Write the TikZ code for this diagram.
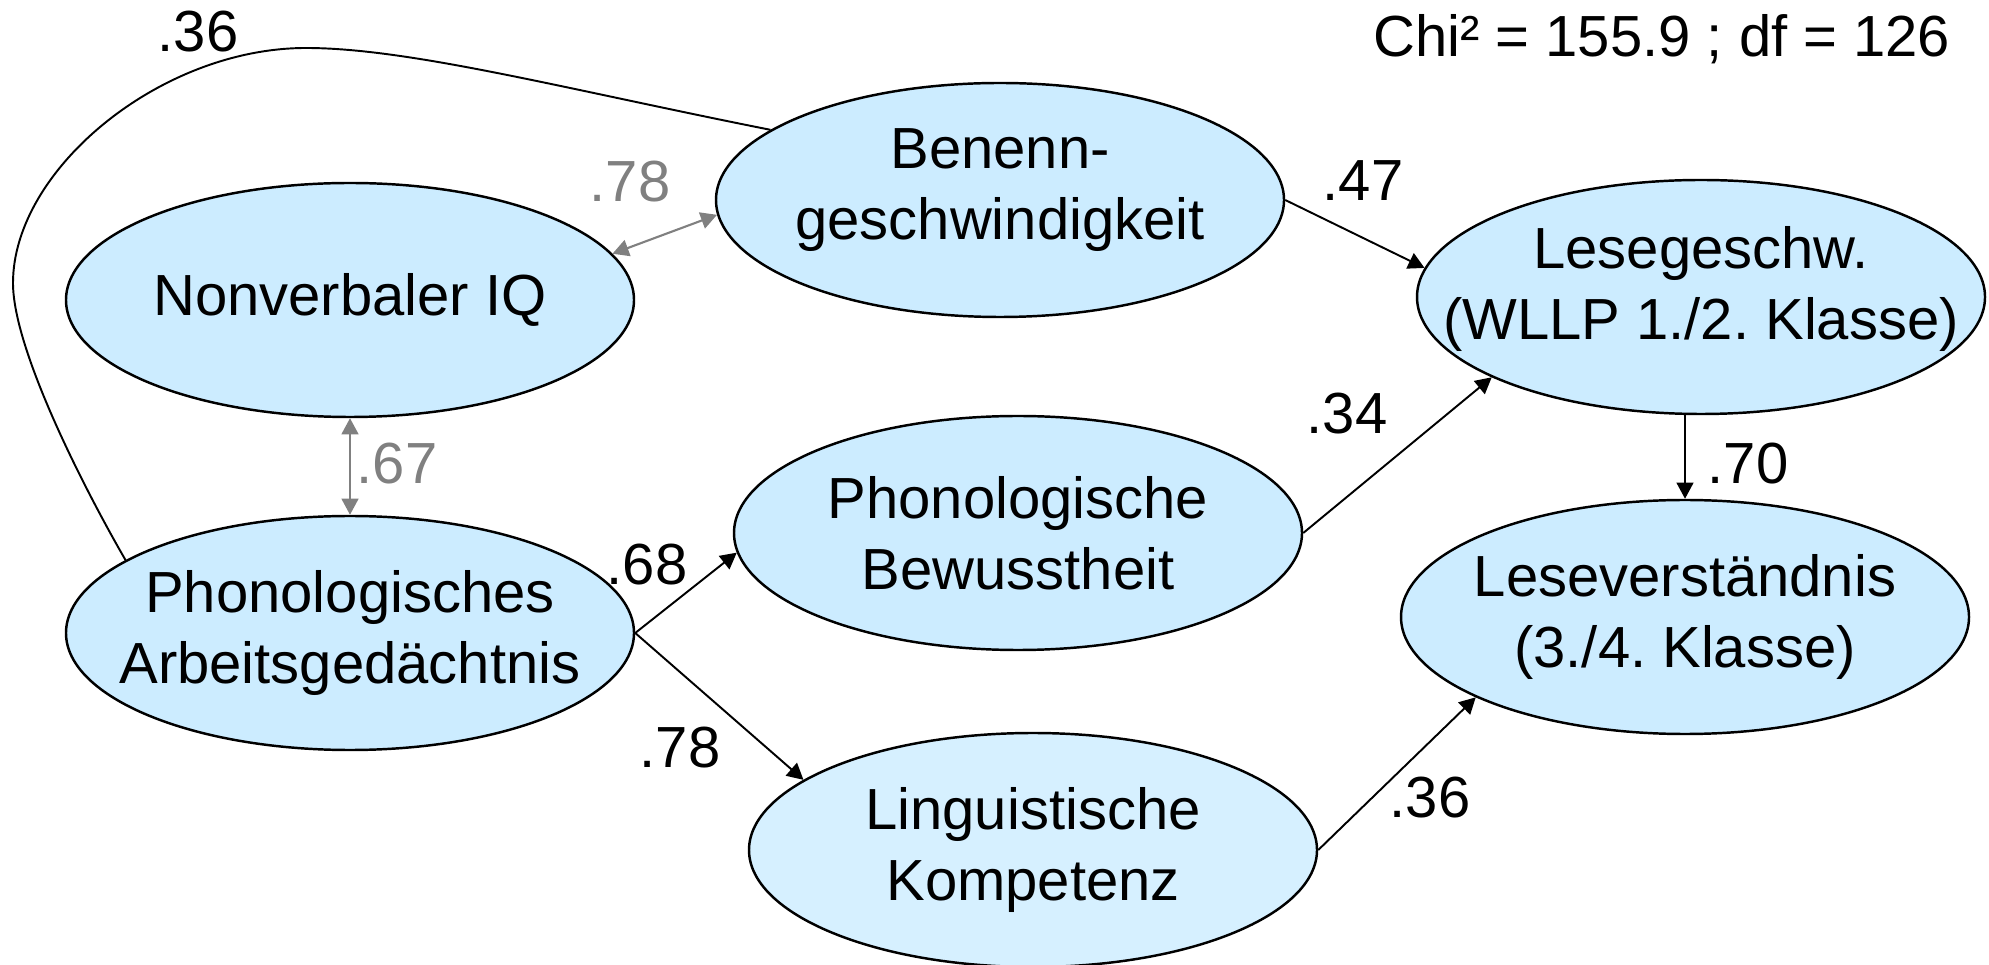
\documentclass[tikz,border=0pt]{standalone}
\usepackage{fontspec}
\setmainfont{Liberation Sans}
\usetikzlibrary{arrows.meta}
\usetikzlibrary{shapes.geometric}
\definecolor{F}{RGB}{204,236,255}
\definecolor{P}{RGB}{214,240,255}
\definecolor{C}{RGB}{128,128,128}
\tikzstyle{factor} = [ellipse,
draw=black, line width=0.7pt,
fill=F,
minimum width=5.68cm,
minimum height=2.34cm,
inner xsep=-0.7cm, inner ysep=0pt, % keep the text from widening the ellipse
align=center]
\tikzstyle{coef} = [inner sep=0pt]
\tikzstyle{corr} = [<->, draw=C, line width=0.6pt]

\begin{document}
\frenchspacing
\begin{tikzpicture}[>={Triangle[length=4.6pt,width=4.8pt]}, line width=0.55pt,
    font=\fontsize{16.5}{20.2}\selectfont]
      \useasboundingbox (0,0) rectangle (19.89,-9.65);

      \node[factor]                                (iq)  at (3.50,-3.00)   {Nonverbaler IQ};
      \node[factor, below of=iq, node distance=3.33cm] (pam) {Phonologisches\\Arbeitsgedächtnis};
      \node[factor, text depth=9pt]                (bg)  at (10.00,-2.00)  {Benenn-\\geschwindigkeit};
      \node[factor]                                (pb)  at (10.18,-5.33)  {Phonologische\\Bewusstheit};
      \node[factor, fill=P]                        (lk)  at (10.33,-8.50)  {Linguistische\\Kompetenz};
      \node[factor, text depth=8pt]                (lg)  at (17.01,-2.97)  {Lesegeschw.\\(WLLP 1./2. Klasse)};
      \node[factor]                                (lv)  at (16.85,-6.17)  {Leseverständnis\\(3./4. Klasse)};

      \node[anchor=base east] (chi) at (19.63,-0.57) {Chi² = 155.9 ; df = 126};

      % correlations
      \draw [corr] (iq.10) -- (bg.183);
      \draw [corr] (iq.south) -- (pam.north);
      \draw (bg.163) .. controls (5.65,-0.89) and (4.10,-0.48) .. (3.06,-0.48)
                     .. controls (1.60,-0.48) and (0.13,-1.70) .. (0.13,-2.83)
                     .. controls (0.13,-3.50) and (0.85,-4.90) .. (pam.162);

      % paths
      \draw [->] (bg.east)  -- (lg.174);
      \draw [->] (pam.east) -- (pb.184);
      \draw [->] (pam.east) -- (lk.163);
      \draw [->] (pb.east)  -- (lg.201);
      \draw [->] (lk.east)  -- (lv.201);
      \draw [->] (lv.north |- lg.south) -- (lv.north);

      \node[coef, text=C] (r78) at (6.30,-1.82) {.78};
      \node[coef, text=C] (r67) at (3.97,-4.64) {.67};
      \node[coef]         (r36) at (1.98,-0.32) {.36};
      \node[coef]         (b47) at (13.63,-1.81) {.47};
      \node[coef]         (b68) at (6.47,-5.65) {.68};
      \node[coef]         (b78) at (6.80,-7.48) {.78};
      \node[coef]         (b34) at (13.47,-4.14) {.34};
      \node[coef]         (b70) at (17.48,-4.64) {.70};
      \node[coef]         (b36) at (14.30,-7.98) {.36};
    \end{tikzpicture}
\end{document}
